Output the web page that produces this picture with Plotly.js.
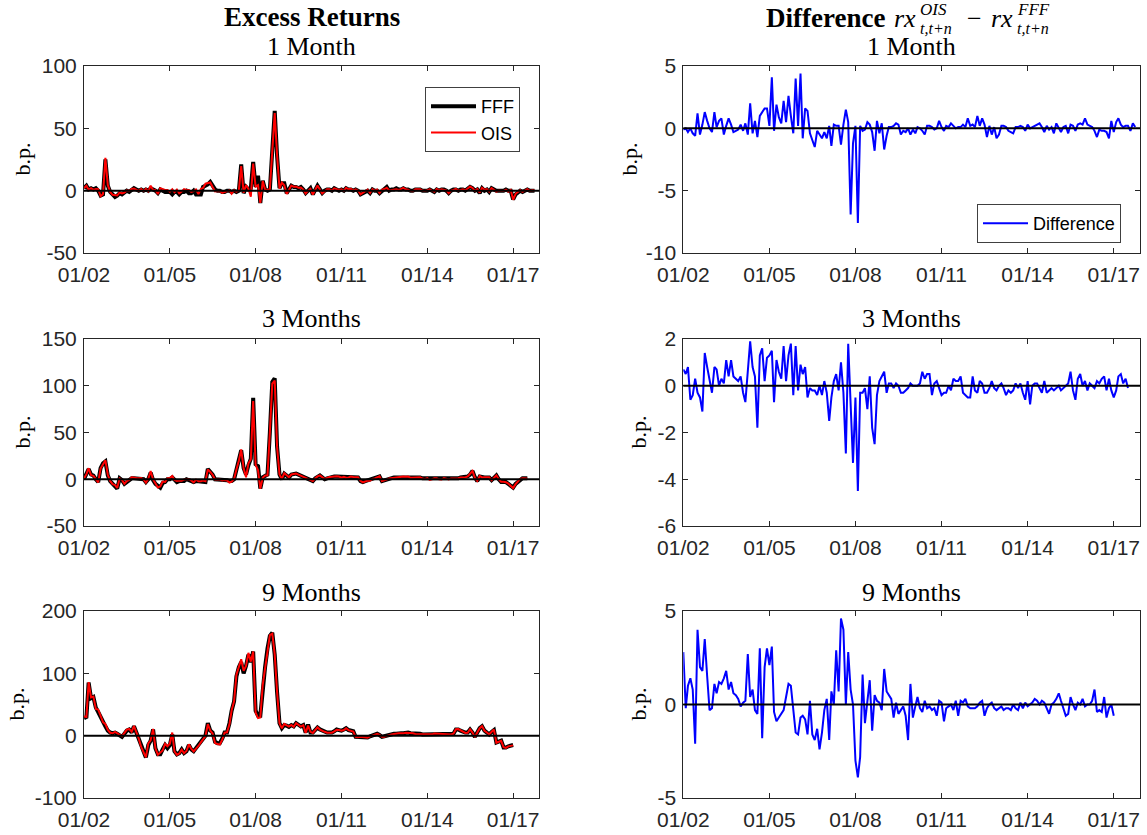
<!DOCTYPE html>
<html>
<head>
<meta charset="utf-8">
<script src="https://cdn.plot.ly/plotly-3.0.1.min.js"></script>
<style>
html, body { margin: 0; padding: 0; background: #ffffff; }
#chart { width: 1147px; height: 835px; }
</style>
</head>
<body>
<div id="chart"></div>
<script>
// ---- Data (monthly, starting January 2002), basis points ----
const startYear = 2002;

// 1 Month horizon (Jan 2002 - Oct 2017)
const fff1m = [
  2, 4, 1, 2, 1, 2, 0, -4, -3, 25, 4, -1,
  -3, -5, -4, -2, -3, -1, 0, -1, 1, 2, 1, 0,
  1, 0, 1, 0, 2, 1, 0, -2, 1, 0, -1, -1,
  -1, -3, -1, -1, -3, -1, -1, 0, -2, -2, 0, -3,
  -3, -3, 3, 4, 5, 7, 4, 1, 0, 0, -1, -1,
  0, 0, -1, 0, -1, 0, 21, -2, 3, 1, 2, 23,
  3, 12, -10, 8, 1, 0, 1, 32, 64, 28, 2, 6,
  6, -2, 1, 4, 3, 3, 2, 3, 1, -2, 0, 2,
  -3, 1, 4, 1, -2, 0, 1, 1, 0, 2, 1, 0,
  1, 0, 2, 1, 1, 0, 1, 0, -3, -2, -1, 0,
  -2, 1, 0, 0, -2, 0, 1, 3, 0, 1, 1, 2,
  1, 1, 2, 1, 1, 0, 0, 1, 1, 1, 0, 0,
  0, 1, 0, -1, 1, 0, 1, 1, 0, -2, 0, 1,
  1, 0, 1, 1, 0, 2, 3, 2, 0, 1, -2, 2,
  0, 1, -1, 2, 1, 0, 0, 0, 0, 1, 0, 0,
  -7, -3, -2, 0, -1, 0, 1, 0, 0, 0
];
const ois1m = [
  1.9, 4, 0.7, 2, 0.6, 1.4, 1.2, -4.5, -2.7, 26.3, 4.6, -1,
  -3.3, -3.7, -3.9, -1.4, -2.2, -1.5, 0.2, -0.2, 1.3, 1.7, 0.8, -0.1,
  1.3, -0.2, 1.4, -0.5, 4.0, 0.6, 0.6, -2.7, 2.0, 1.3, 0.6, 0.6,
  -0.8, 1.1, -1.2, 0.9, -2.1, -0.6, 1.2, 0.5, 0.6, -1.0, -0.4, 1.0,
  -2.8, 1.4, 2.2, 5.6, 6.4, 6.6, 3.0, -0.5, -0.2, -0.5, -1.8, -1.3,
  -0.8, 0.2, -2.4, 0.3, -0.8, 0.2, 19.7, -1.7, 4.5, 1.5, -4.9, 21.8,
  3.2, 4.4, -9.8, 7.8, 0.9, 0.5, 1.3, 31.7, 62.2, 28.6, 1.6, 6.4,
  4.3, -2.6, 1.1, 4.1, 3.2, 3.4, 2.3, 2.5, 0.8, -2.3, 0, 1.5,
  -3.1, 0.6, 4.1, 1, -2.2, -0.5, 1.2, 1.2, 0.1, 1.9, 1, 0.6,
  1.1, -0.2, 2.2, 1.1, 1.4, 0.2, 1, 0.1, -2.9, -1.7, -0.9, 0.8,
  -1.8, 1.3, 0.1, 1, -1.8, 0.8, 1.3, 2.3, 0.2, 0.5, 1.1, 1.2,
  0.5, 1.2, 2.2, 1.1, 0.8, -0.3, -0.4, 1.1, 1.1, 1.2, 0.1, -0.2,
  0.3, 1, 0.1, -0.8, 1.3, 0.4, 1.1, 0.7, 0.2, -2.1, 0.1, 0.6,
  1.4, 0, 0.7, 1.1, 0.2, 1.6, 3.3, 2.2, -0.2, 1.3, -1.6, 2.3,
  0.8, 1.3, -0.8, 2.1, 0.8, -0.7, -0.1, -0.2, -0.2, 0.7, -0.8, 0.6,
  -7.3, -2.5, -1.2, 0.3, -0.9, 0.2, 1.2, -0.2, 0.4, 0.1
];
const diff1m = [
  -0.1, 0.0, -0.3, 0.0, -0.4, -0.6, 1.2, -0.5, 0.3, 1.3, 0.6, 0.0,
  -0.3, 1.3, 0.1, 0.6, 0.8, -0.5, 0.2, 0.8, 0.3, -0.3, -0.2, -0.1,
  0.3, -0.2, 0.4, -0.5, 2.0, -0.4, 0.6, -0.7, 1.0, 1.3, 1.6, 1.6,
  0.2, 4.1, -0.2, 1.9, 0.9, 0.4, 2.2, 0.5, 2.6, 1.0, -0.4, 4.0,
  0.2, 4.4, -0.8, 1.6, 1.4, -0.4, -1.0, -1.5, -0.2, -0.5, -0.8, -0.3,
  -0.8, 0.2, -1.4, 0.3, 0.2, 0.2, -1.3, 0.3, 1.5, 0.5, -6.9, -1.2,
  0.2, -7.6, 0.2, -0.2, -0.1, 0.5, 0.3, -0.3, -1.8, 0.6, -0.4, 0.4,
  -1.7, -0.6, 0.1, 0.1, 0.2, 0.4, 0.3, -0.5, -0.2, -0.3, 0.0, -0.5,
  -0.1, -0.4, 0.1, 0.0, -0.2, -0.5, 0.2, 0.2, 0.1, -0.1, 0.0, 0.6,
  0.1, -0.2, 0.2, 0.1, 0.4, 0.2, 0.0, 0.1, 0.1, 0.3, 0.1, 0.8,
  0.2, 0.3, 0.1, 1.0, 0.2, 0.8, 0.3, -0.7, 0.2, -0.5, 0.1, -0.8,
  -0.5, 0.2, 0.2, 0.1, -0.2, -0.3, -0.4, 0.1, 0.1, 0.2, 0.1, -0.2,
  0.3, 0.0, 0.1, 0.2, 0.3, 0.4, 0.1, -0.3, 0.2, -0.1, 0.1, -0.4,
  0.4, 0.0, -0.3, 0.1, 0.2, -0.4, 0.3, 0.2, -0.2, 0.3, 0.4, 0.3,
  0.8, 0.3, 0.2, 0.1, -0.2, -0.7, -0.1, -0.2, -0.2, -0.3, -0.8, 0.6,
  -0.3, 0.5, 0.8, 0.3, 0.1, 0.2, 0.2, -0.2, 0.4, 0.1
];

// 3 Months horizon (Jan 2002 - Jul 2017)
const fff3m = [
  0, 5, 11, 5, 4, 0, -3, 12, 17, 19, 4, -2,
  -5, -7, -10, 1, -1, -5, -3, -1, 1, 1, 1, 1,
  1, 0, -3, 0, 7, -1, -5, -7, -9, -4, -3, 0,
  0, 2, 0, -3, -2, -2, -2, 0, -1, -3, -3, -2,
  -2, -3, -2, -3, 11, 8, 5, 0, 0, 0, -1, -1,
  -1, -2, -2, 0, 10, 20, 31, 12, 5, 15, 22, 87,
  16, 14, -10, 2, 4, 5, 50, 104, 108, 35, 5, 0,
  6, 4, 2, 5, 6, 6, 5, 4, 3, 2, 0, -1,
  -2, 1, 3, 4, 2, 0, 1, 2, 3, 3, 3, 3,
  2, 3, 2, 2, 3, 2, 2, 2, -2, -3, -2, -1,
  -1, 0, 1, 2, 3, -2, -1, 0, 1, 1, 2, 2,
  2, 2, 3, 3, 3, 2, 2, 2, 2, 2, 1, 1,
  1, 0, 0, 1, 1, 0, 0, 1, 1, 0, 1, 1,
  1, 1, 2, 2, 2, 3, 5, 9, 2, -2, 3, 2,
  2, 2, 2, -1, 2, 4, 0, -3, -3, -3, -5, -7,
  -9, -5, -3, 0, 1, 1, 1
];
const ois3m = [
  0.7, 5.5, 11.8, 4.4, 3.6, 0.3, -3.3, 11.5, 15.9, 20.4, 4.8, -1.8,
  -5.3, -6.2, -9.3, 1, -0.7, -4.9, -1.9, -0.6, 2.1, 1.4, 1.3, 1.2,
  1.4, -0.3, -3.7, 0.5, 8.9, -0.2, -4.6, -8.8, -7.7, -2.4, -2.8, 1.2,
  1.3, 3.5, -0.7, -1.9, -1.4, -1.7, -0.3, 0.2, 0.3, -1.2, -3.4, -0.3,
  -2.2, -2.1, -1.5, -2.2, 10.5, 7.9, 4.8, -0.2, -0.4, 0, -1.4, -0.8,
  -1.3, -3.5, -2.5, 0.2, 10.5, 19.8, 32, 11.7, 2.1, 16.8, 21.5, 83.7,
  15.5, 9.5, -10.3, 1.7, 3.9, 4, 50.4, 102.2, 105.5, 34.6, 5.2, 0.4,
  6.6, 3.7, 2.1, 5.1, 5.9, 6.1, 5, 3.7, 2.7, 1.8, -0.1, -0.9,
  -2, 1, 3, 4.1, 2.6, 0.3, 1.5, 2.5, 2.6, 3.1, 3.2, 2.9,
  1.6, 2.7, 1.7, 2, 2.8, 2.3, 2.2, 2.2, -1.6, -3.3, -2.4, -1.5,
  -1.5, 0.4, 0.8, 1.7, 3.2, -1.9, -1.3, -0.3, 0.9, 1.2, 1.9, 1.8,
  2, 2.1, 2.9, 2.6, 2.8, 1.7, 1.8, 2.1, 1.9, 2.1, 0.7, 0.4,
  1.2, -0.8, 0, 1.1, 1.1, -0.1, -0.3, 1.2, 0.7, -0.2, 0.9, 0.8,
  0.9, 1, 1.8, 1.9, 2, 3.1, 5.6, 8.8, 1.4, -1.7, 3.5, 2,
  2.2, 1.8, 2.1, -1, 1.9, 4.2, 0.1, -2.7, -2.6, -3.2, -4.7, -7.2,
  -9.5, -5.2, -2.6, 0.5, 1.1, 1.3, 0.9
];
const diff3m = [
  0.7, 0.5, 0.8, -0.6, -0.4, 0.3, -0.3, -0.5, -1.1, 1.4, 0.8, 0.2,
  -0.3, 0.8, 0.7, 0.0, 0.3, 0.1, 1.1, 0.4, 1.1, 0.4, 0.3, 0.2,
  0.4, -0.3, -0.7, 0.5, 1.9, 0.8, 0.4, -1.8, 1.3, 1.6, 0.2, 1.2,
  1.3, 1.5, -0.7, 1.1, 0.6, 0.3, 1.7, 0.2, 1.3, 1.8, -0.4, 1.7,
  -0.2, 0.9, 0.5, 0.8, -0.5, -0.1, -0.2, -0.2, -0.4, 0.0, -0.4, 0.2,
  -0.3, -1.5, -0.5, 0.2, 0.5, -0.2, 1.0, -0.3, -2.9, 1.8, -0.5, -3.3,
  -0.5, -4.5, -0.3, -0.3, -0.1, -1.0, 0.4, -1.8, -2.5, -0.4, 0.2, 0.4,
  0.6, -0.3, 0.1, 0.1, -0.1, 0.1, 0.0, -0.3, -0.3, -0.2, -0.1, 0.1,
  0.0, 0.0, 0.0, 0.1, 0.6, 0.3, 0.5, 0.5, -0.4, 0.1, 0.2, -0.1,
  -0.4, -0.3, -0.3, 0.0, -0.2, 0.3, 0.2, 0.2, 0.4, -0.3, -0.4, -0.5,
  -0.5, 0.4, -0.2, -0.3, 0.2, 0.1, -0.3, -0.3, -0.1, 0.2, -0.1, -0.2,
  0.0, 0.1, -0.1, -0.4, -0.2, -0.3, -0.2, 0.1, -0.1, 0.1, -0.3, -0.6,
  0.2, -0.8, 0.0, 0.1, 0.1, -0.1, -0.3, 0.2, -0.3, -0.2, -0.1, -0.2,
  -0.1, 0.0, -0.2, -0.1, 0.0, 0.1, 0.6, -0.2, -0.6, 0.3, 0.5, 0.0,
  0.2, -0.2, 0.1, 0.0, -0.1, 0.2, 0.1, 0.3, 0.4, -0.2, 0.3, -0.2,
  -0.5, -0.2, 0.4, 0.5, 0.1, 0.3, -0.1
];

// 9 Months horizon (Jan 2002 - Jan 2017)
const fff9m = [
  28, 30, 85, 60, 62, 45, 38, 30, 20, 15, 8, 5,
  4, 5, 3, 0, -2, 3, 8, 10, 5, 15, 5, -5,
  -18, -28, -35, -15, -8, 10, -20, -30, -30, -22, -15, -20,
  -15, 2, -25, -30, -28, -22, -28, -25, -15, -22, -25, -20,
  -15, -10, -5, 0, 20, 8, 5, -10, -12, -12, -5, 5,
  5, 20, 40, 55, 95, 110, 118, 100, 112, 130, 118, 135,
  40, 32, 32, 80, 110, 140, 160, 165, 130, 70, 20, 12,
  17, 16, 14, 17, 15, 20, 18, 15, 17, 5, 18, 5,
  5, 10, 13, 10, 8, 6, 5, 5, 5, 7, 10, 9,
  8, 10, 12, 9, 8, 7, -2, -2, -2, -2, -3, -3,
  -1, 0, 2, 3, 1, -2, -1, 0, 2, 2, 3, 3,
  4, 4, 4, 5, 5, 4, 4, 3, 3, 3, 2, 2,
  2, 2, 2, 3, 3, 3, 3, 3, 3, 3, 2, 3,
  10, 10, 8, 6, 5, 5, 10, 5, -2, 5, 12, 15,
  8, 5, 2, 6, 9, -11, -9, -8, -19, -19, -17, -16,
  -15
];
const ois9m = [
  30.8, 29.8, 86, 61.4, 62.8, 42.9, 42, 32, 21.8, 18.5, 9.5, 4.7,
  3.8, 6.1, 3.6, 1.2, -0.9, 4.4, 9.8, 10.8, 6.2, 15.6, 5.5, -4.7,
  -18.1, -27.9, -34.8, -12.3, -7.6, 10.8, -20.3, -30.5, -27, -23.8, -13, -17,
  -12.9, 5.1, -25.4, -30.9, -28.7, -22.5, -28.3, -24.6, -13.9, -21, -25.3, -21.5,
  -16.6, -10.7, -5.6, -0.8, 18.4, 8.2, 3.4, -11.9, -13.3, -14.4, -6.5, 4.7,
  5.3, 18.1, 40.7, 55, 97.9, 110.7, 122.6, 104, 112, 132.8, 118.8, 135,
  37, 28.1, 29.2, 81.6, 109, 140.2, 161.3, 163.6, 130.5, 70.2, 20.1, 11.7,
  18.9, 16.7, 14.5, 17.3, 14.3, 20.1, 17.5, 14.7, 16.9, 4.4, 16.1, 6.1,
  4.3, 9.9, 13.4, 9.8, 7.6, 6.2, 4.8, 4.9, 4.7, 6.8, 9.4, 9.2,
  8.1, 9.1, 11.8, 8.9, 8, 6.7, -1.8, -2.6, -1.8, -1.9, -2.7, -3.1,
  -1.2, -0.2, 1.8, 2.9, 1.1, -1.8, -1.6, -0.2, 2, 2.1, 2.8, 2.7,
  3.8, 3.9, 3.7, 4.8, 4.8, 3.7, 4, 2.8, 2.7, 3.1, 1.8, 2.1,
  1.9, 2, 2.1, 3.3, 3.2, 3, 3.2, 3.1, 2.8, 2.5, 2, 3.1,
  10.3, 10.6, 8.2, 5.8, 4.4, 4.5, 10.4, 5, -2.3, 5.1, 12, 15.3,
  7.9, 5, 2, 6.2, 9.8, -11.4, -9.3, -8.4, -18.6, -19.7, -17.2, -16,
  -15.6
];
const diff9m = [
  2.8, -0.2, 1.0, 1.4, 0.8, -2.1, 4.0, 2.0, 1.8, 3.5, 1.5, -0.3,
  -0.2, 1.1, 0.6, 1.2, 1.1, 1.4, 1.8, 0.8, 1.2, 0.6, 0.5, 0.3,
  -0.1, 0.1, 0.2, 2.7, 0.4, 0.8, -0.3, -0.5, 3.0, -1.8, 2.0, 3.0,
  2.1, 3.1, -0.4, -0.9, -0.7, -0.5, -0.3, 0.4, 1.1, 1.0, -0.3, -1.5,
  -1.6, -0.7, -0.6, -0.8, -1.6, 0.2, -1.6, -1.9, -1.3, -2.4, -1.5, -0.3,
  0.3, -1.9, 0.7, 0.0, 2.9, 0.7, 4.6, 4.0, 0.0, 2.8, 0.8, 0.0,
  -3.0, -3.9, -2.8, 1.6, -1.0, 0.2, 1.3, -1.4, 0.5, 0.2, 0.1, -0.3,
  1.9, 0.7, 0.5, 0.3, -0.7, 0.1, -0.5, -0.3, -0.1, -0.6, -1.9, 1.1,
  -0.7, -0.1, 0.4, -0.2, -0.4, 0.2, -0.2, -0.1, -0.3, -0.2, -0.6, 0.2,
  0.1, -0.9, -0.2, -0.1, 0.0, -0.3, 0.2, -0.6, 0.2, 0.1, 0.3, -0.1,
  -0.2, -0.2, -0.2, -0.1, 0.1, 0.2, -0.6, -0.2, 0.0, 0.1, -0.2, -0.3,
  -0.2, -0.1, -0.3, -0.2, -0.2, -0.3, 0.0, -0.2, -0.3, 0.1, -0.2, 0.1,
  -0.1, 0.0, 0.1, 0.3, 0.2, 0.0, 0.2, 0.1, -0.2, -0.5, 0.0, 0.1,
  0.3, 0.6, 0.2, -0.2, -0.6, -0.5, 0.4, 0.0, -0.3, 0.1, 0.0, 0.3,
  -0.1, 0.0, 0.0, 0.2, 0.8, -0.4, -0.3, -0.4, 0.4, -0.7, -0.2, 0.0,
  -0.6
];

// Axis ticks
const tickDates = ['2002-01-01', '2005-01-01', '2008-01-01', '2011-01-01', '2014-01-01', '2017-01-01'];
const tickLabels = ['01/02', '01/05', '01/08', '01/11', '01/14', '01/17'];
const xRange = ['2002-01-01', '2017-12-01'];
const yTickVals = [
  [[-50, 0, 50, 100], [-10, -5, 0, 5]],
  [[-50, 0, 50, 100, 150], [-6, -4, -2, 0, 2]],
  [[-100, 0, 100, 200], [-5, 0, 5]]
];
const yTickText = [
  [['-50', '0', '50', '100'], ['-10', '-5', '0', '5']],
  [['-50', '0', '50', '100', '150'], ['-6', '-4', '-2', '0', '2']],
  [['-100', '0', '100', '200'], ['-5', '0', '5']]
];
const yRanges = [[[-50, 100], [-10, 5]], [[-50, 150], [-6, 2]], [[-100, 200], [-5, 5]]];
const subTitles = ['1 Month', '3 Months', '9 Months'];

// Monthly date labels for each observation
function monthDates(n) {
  const out = [];
  for (let i = 0; i < n; i++) {
    const y = startYear + Math.floor(i / 12);
    const m = (i % 12) + 1;
    out.push(y + '-' + String(m).padStart(2, '0') + '-01');
  }
  return out;
}

const W = 1147, H = 835;
const px = v => v / W;
const py = v => 1 - v / H;

const sans = 'Liberation Sans, Arial, Helvetica, sans-serif';
const serif = 'Liberation Serif, Times New Roman, serif';
const axCol = '#262626';

const traces = [];
function addLR(fff, ois, ax, legend) {
  const d = monthDates(fff.length);
  traces.push({x: d, y: fff, type: 'scatter', mode: 'lines', name: 'FFF',
    line: {color: '#000000', width: 4}, xaxis: 'x' + ax, yaxis: 'y' + ax, showlegend: legend, legend: 'legend'});
  traces.push({x: d, y: ois, type: 'scatter', mode: 'lines', name: 'OIS',
    line: {color: '#ff0000', width: 2}, xaxis: 'x' + ax, yaxis: 'y' + ax, showlegend: legend, legend: 'legend'});
}
function addDiff(diff, ax, legend) {
  const d = monthDates(diff.length);
  traces.push({x: d, y: diff, type: 'scatter', mode: 'lines', name: 'Difference',
    line: {color: '#0000ff', width: 2}, xaxis: 'x' + ax, yaxis: 'y' + ax, showlegend: legend, legend: 'legend2'});
}
addLR(fff1m, ois1m, '', true);
addDiff(diff1m, '2', true);
addLR(fff3m, ois3m, '3', false);
addDiff(diff3m, '4', false);
addLR(fff9m, ois9m, '5', false);
addDiff(diff9m, '6', false);

const colX = [[84, 539.3], [683.3, 1140]];
const rowY = [[66, 253], [339, 526], [611, 798]];

const layout = {
  width: W, height: H, autosize: false,
  margin: {l: 0, r: 0, t: 0, b: 0},
  paper_bgcolor: '#ffffff', plot_bgcolor: '#ffffff',
  showlegend: true,
  hovermode: false,
  legend: {
    x: px(520), y: py(87), xanchor: 'right', yanchor: 'top',
    bgcolor: '#ffffff', bordercolor: '#404040', borderwidth: 1,
    font: {family: sans, size: 18, color: '#000000'},
    itemwidth: 45
  },
  legend2: {
    x: px(1121), y: py(204), xanchor: 'right', yanchor: 'top',
    bgcolor: '#ffffff', bordercolor: '#404040', borderwidth: 1,
    font: {family: sans, size: 18, color: '#000000'},
    itemwidth: 45
  },
  shapes: [],
  annotations: []
};

let idx = 0;
for (let r = 0; r < 3; r++) {
  for (let c = 0; c < 2; c++) {
    idx++;
    const s = idx === 1 ? '' : String(idx);
    layout['xaxis' + s] = {
      type: 'date', range: xRange,
      domain: [px(colX[c][0]), px(colX[c][1])],
      anchor: 'y' + s,
      tickmode: 'array', tickvals: tickDates, ticktext: tickLabels,
      ticks: 'inside', ticklen: 5, tickwidth: 1, tickcolor: axCol,
      ticklabelstandoff: 3,
      showline: true, linecolor: axCol, linewidth: 1, mirror: 'ticks',
      showgrid: false, zeroline: false,
      tickfont: {family: sans, size: 21, color: axCol}
    };
    layout['yaxis' + s] = {
      range: yRanges[r][c],
      domain: [py(rowY[r][1]), py(rowY[r][0])],
      anchor: 'x' + s,
      tickmode: 'array', tickvals: yTickVals[r][c], ticktext: yTickText[r][c],
      ticks: 'inside', ticklen: 5, tickwidth: 1, tickcolor: axCol,
      ticklabelstandoff: 2,
      showline: true, linecolor: axCol, linewidth: 1, mirror: 'ticks',
      showgrid: false, zeroline: false,
      tickfont: {family: sans, size: 21, color: axCol}
    };
    layout.shapes.push({
      type: 'line', xref: 'x' + s + ' domain', yref: 'y' + s,
      x0: 0, x1: 1, y0: 0, y1: 0, layer: 'above',
      line: {color: '#000000', width: 2}
    });
  }
}

const subTitleY = [46, 318, 592];
const ylabX = [[22, 629], [22, 638], [16, 638]];
for (let r = 0; r < 3; r++) {
  for (let c = 0; c < 2; c++) {
    layout.annotations.push({
      text: subTitles[r], xref: 'paper', yref: 'paper',
      x: px((colX[c][0] + colX[c][1]) / 2), y: py(subTitleY[r]),
      xanchor: 'center', yanchor: 'middle', showarrow: false,
      font: {family: serif, size: 26, color: '#000000'}
    });
    layout.annotations.push({
      text: 'b.p.', xref: 'paper', yref: 'paper', textangle: -90,
      x: px(ylabX[r][c]), y: py((rowY[r][0] + rowY[r][1]) / 2),
      xanchor: 'center', yanchor: 'middle', showarrow: false,
      font: {family: serif, size: 22, color: '#000000'}
    });
  }
}

// Column headings
function ann(text, x, y, size, anchor) {
  layout.annotations.push({
    text: text, xref: 'paper', yref: 'paper', x: px(x), y: py(y),
    xanchor: anchor || 'left', yanchor: 'middle', showarrow: false,
    borderpad: 0,
    font: {family: serif, size: size, color: '#000000'}
  });
}
ann('<b>Excess Returns</b>', (colX[0][0] + colX[0][1]) / 2, 17, 27, 'center');
ann('<b>Difference</b>', 765, 18, 27);
ann('<i>rx</i>', 893, 18, 26);
ann('<i>OIS</i>', 919, 10, 17);
ann('<i>t,t+n</i>', 919, 28, 16);
ann('\u2212', 966, 18, 26);
ann('<i>rx</i>', 990, 18, 26);
ann('<i>FFF</i>', 1016, 10, 17);
ann('<i>t,t+n</i>', 1016, 28, 16);

Plotly.newPlot('chart', traces, layout, {staticPlot: true, displayModeBar: false});
</script>
</body>
</html>
